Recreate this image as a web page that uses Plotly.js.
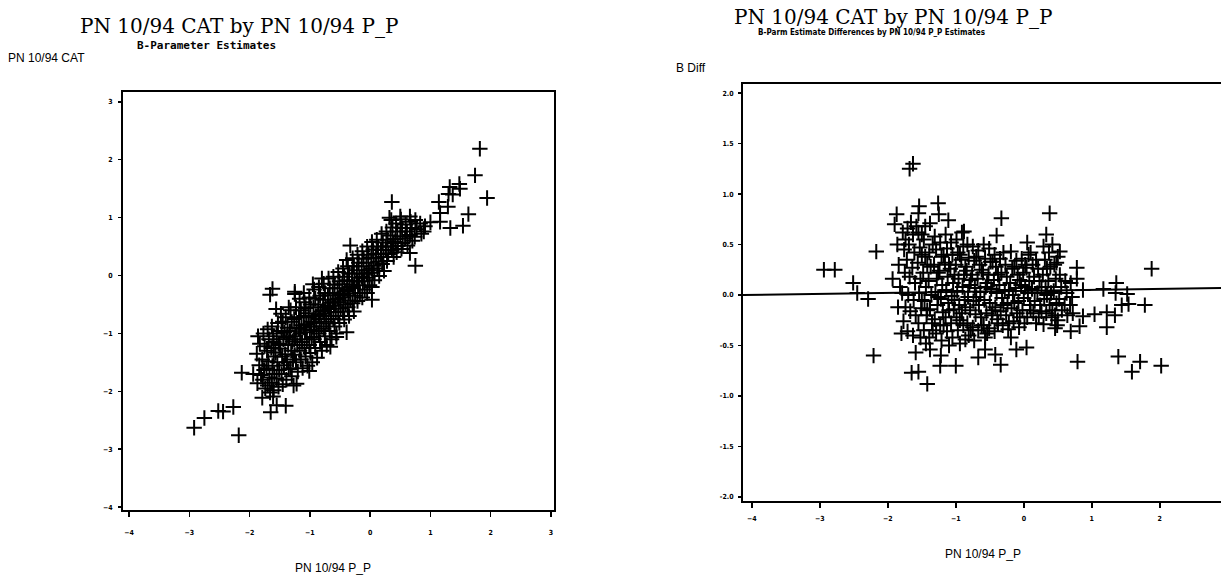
<!DOCTYPE html>
<html>
<head>
<meta charset="utf-8">
<script src="https://cdn.plot.ly/plotly-3.0.1.min.js"></script>
<style>html,body{margin:0;padding:0;background:#fff;}#chart{width:1221px;height:577px;}</style>
</head>
<body>
<div id="chart"></div>
<script>
// ---------- Left plot: B-Parameter Estimates (CAT vs P_P) ----------
const leftClusterX = [
 -1.86,-1.83,-1.88,-1.84,-1.81,-1.87,
 -1.77,-1.75,-1.79,-1.76,-1.78,-1.74,
 -1.70,-1.68,-1.71,-1.69,-1.72,-1.67,-1.70,-1.66,
 -1.63,-1.61,-1.64,-1.60,-1.62,-1.59,-1.63,-1.60,
 -1.56,-1.53,-1.55,-1.52,-1.57,-1.54,-1.51,-1.55,-1.52,
 -1.48,-1.45,-1.47,-1.44,-1.49,-1.46,-1.43,-1.47,-1.45,
 -1.40,-1.37,-1.39,-1.36,-1.41,-1.38,-1.35,-1.39,
 -1.32,-1.30,-1.33,-1.29,-1.31,-1.28,-1.32,-1.30,-1.27,
 -1.25,-1.23,-1.26,-1.22,-1.24,-1.21,-1.25,-1.23,-1.20,
 -1.17,-1.15,-1.18,-1.14,-1.16,-1.13,-1.17,-1.15,-1.12,
 -1.09,-1.07,-1.10,-1.06,-1.08,-1.05,-1.09,-1.07,-1.04,
 -1.01,-0.99,-1.02,-0.98,-1.00,-0.97,-1.01,-0.99,-0.96,
 -0.93,-0.91,-0.94,-0.90,-0.92,-0.89,-0.93,-0.91,-0.88,
 -0.85,-0.83,-0.86,-0.82,-0.84,-0.81,-0.85,-0.83,-0.80,
 -0.77,-0.75,-0.78,-0.74,-0.76,-0.73,-0.77,-0.75,-0.72,
 -0.69,-0.67,-0.70,-0.66,-0.68,-0.65,-0.69,-0.67,-0.64,
 -0.61,-0.59,-0.62,-0.58,-0.60,-0.57,-0.61,-0.59,-0.56,
 -0.53,-0.51,-0.54,-0.50,-0.52,-0.49,-0.53,-0.51,
 -0.45,-0.43,-0.46,-0.42,-0.44,-0.41,-0.45,-0.43,
 -0.37,-0.35,-0.38,-0.34,-0.36,-0.33,-0.37,-0.35,
 -0.29,-0.27,-0.30,-0.26,-0.28,-0.25,-0.29,-0.27,
 -0.21,-0.19,-0.22,-0.18,-0.20,-0.17,-0.21,
 -0.13,-0.11,-0.14,-0.10,-0.12,-0.09,-0.13,
 -0.05,-0.03,-0.06,-0.02,-0.04,-0.01,-0.05,
 0.03,0.05,0.02,0.06,0.04,0.07,0.03,
 0.11,0.13,0.10,0.14,0.12,0.15,
 0.19,0.21,0.18,0.22,0.20,0.23,
 0.27,0.29,0.26,0.30,0.28,
 0.35,0.37,0.34,0.38,0.36,0.39,
 0.43,0.45,0.42,0.46,0.44,
 0.51,0.53,0.50,0.54,0.52,
 0.59,0.61,0.58,0.62,
 0.67,0.69,0.66,0.70,
 0.75,0.77,0.74,
 0.83,0.85,0.89,0.91
];
const leftClusterY = [
 -1.05,-1.18,-1.35,-1.55,-1.72,-1.86,
 -1.00,-1.22,-1.45,-1.63,-1.80,-1.95,
 -0.93,-1.10,-1.30,-1.48,-1.60,-1.76,-1.90,-2.02,
 -0.88,-1.05,-1.25,-1.40,-1.56,-1.70,-1.85,-1.98,
 -0.58,-0.82,-1.00,-1.18,-1.33,-1.50,-1.63,-1.78,-1.92,
 -0.66,-0.80,-0.96,-1.10,-1.26,-1.40,-1.55,-1.70,-1.88,
 -0.72,-0.90,-1.06,-1.20,-1.36,-1.50,-1.62,-1.80,
 -0.60,-0.80,-0.96,-1.14,-1.30,-1.45,-1.60,-1.74,-1.90,
 -0.32,-0.55,-0.75,-0.90,-1.05,-1.20,-1.37,-1.50,-1.66,
 -0.40,-0.60,-0.72,-0.86,-1.00,-1.15,-1.30,-1.45,-1.60,
 -0.46,-0.56,-0.70,-0.84,-0.98,-1.10,-1.25,-1.40,-1.56,
 -0.38,-0.50,-0.65,-0.80,-0.94,-1.06,-1.20,-1.34,-1.50,
 -0.24,-0.40,-0.55,-0.70,-0.82,-0.96,-1.10,-1.25,-1.42,
 -0.20,-0.35,-0.50,-0.62,-0.75,-0.88,-1.00,-1.15,-1.30,
 -0.14,-0.30,-0.42,-0.55,-0.66,-0.80,-0.92,-1.05,-1.20,
 -0.05,-0.22,-0.34,-0.47,-0.58,-0.70,-0.83,-0.96,-1.10,
 -0.02,-0.16,-0.30,-0.42,-0.52,-0.63,-0.75,-0.88,-1.00,
 0.06,-0.10,-0.22,-0.34,-0.46,-0.57,-0.70,-0.82,
 0.12,-0.02,-0.15,-0.27,-0.38,-0.50,-0.62,-0.76,
 0.16,0.04,-0.08,-0.20,-0.31,-0.43,-0.55,-0.70,
 0.30,0.16,0.03,-0.10,-0.22,-0.35,-0.48,-0.62,
 0.36,0.22,0.09,-0.04,-0.17,-0.30,-0.44,
 0.42,0.29,0.16,0.03,-0.10,-0.24,-0.38,
 0.50,0.36,0.22,0.09,-0.04,-0.17,-0.30,
 0.58,0.45,0.31,0.17,0.05,-0.08,-0.20,
 0.62,0.50,0.37,0.24,0.12,-0.01,
 0.72,0.57,0.44,0.32,0.20,0.08,
 0.76,0.62,0.50,0.37,0.25,
 0.96,0.83,0.69,0.56,0.44,0.32,
 0.90,0.76,0.63,0.51,0.40,
 0.97,0.82,0.68,0.56,0.46,
 0.88,0.76,0.64,0.52,
 0.93,0.82,0.70,0.60,
 0.96,0.80,0.67,
 0.90,0.72,0.76,0.85
];
const leftExtraX = [-1.60,-1.50,-1.42,-1.34,-1.26,-1.18,-1.10,-1.02,-0.94,-0.86,-0.78,-0.70,-0.62,
 -0.54,-0.46,-0.38,-0.30,-0.22,-0.14,-0.06,0.02,0.10,0.18,0.26,0.34,0.42,
 -1.35,-1.10,-0.95,-0.80];
const leftExtraY = [-1.15,-1.20,-0.98,-1.05,-1.10,-0.92,-0.90,-0.72,-0.88,-0.68,-0.60,-0.52,-0.46,
 -0.40,-0.32,-0.25,-0.16,-0.10,-0.02,0.04,0.12,0.30,0.38,0.44,0.50,0.58,
 -0.55,-0.30,-0.15,-0.05];
const leftOutlierX = [1.82,1.74,1.94,1.32,1.48,1.49,1.37,1.30,1.14,1.29,
 1.16,1.16,1.00,1.63,1.54,1.33,0.36,0.75,0.66,-0.33,
 -0.39,-1.62,-1.66,-2.13,-2.27,-2.44,-2.52,-2.75,-2.92,-2.18,
 -1.94,-1.79,-1.65,-1.55,-1.40,-1.61,-1.22,-1.01,-0.39,0.03,
 -0.66,-0.56,-1.25,0.66,0.50,0.32];
const leftOutlierY = [2.19,1.73,1.34,1.53,1.58,1.50,1.40,1.41,1.27,1.19,
 1.08,0.93,0.92,1.06,0.86,0.82,1.27,0.17,0.39,0.52,
 0.27,-0.23,-0.33,-1.68,-2.27,-2.35,-2.34,-2.46,-2.63,-2.76,
 -1.70,-2.11,-2.36,-2.24,-2.25,-2.09,-1.87,-1.65,-0.98,-0.42,
 -1.23,-1.06,-0.28,1.02,1.02,1.00];

// ---------- Right plot: B-Parm estimate differences vs P_P ----------
const rightClusterX = [
 -1.86,-1.84,-1.82,-1.85,-1.80,
 -1.78,-1.76,-1.75,-1.79,-1.74,-1.77,
 -1.71,-1.69,-1.72,-1.68,-1.70,-1.67,-1.71,
 -1.63,-1.61,-1.64,-1.60,-1.62,-1.59,-1.63,
 -1.55,-1.53,-1.56,-1.52,-1.54,-1.51,-1.55,-1.52,
 -1.47,-1.45,-1.48,-1.44,-1.46,-1.43,-1.47,-1.44,
 -1.39,-1.37,-1.40,-1.36,-1.38,-1.35,-1.39,
 -1.31,-1.29,-1.32,-1.28,-1.30,-1.27,-1.31,-1.29,
 -1.23,-1.21,-1.24,-1.20,-1.22,-1.19,-1.23,-1.21,
 -1.15,-1.13,-1.16,-1.12,-1.14,-1.11,-1.15,-1.13,-1.10,
 -1.07,-1.05,-1.08,-1.04,-1.06,-1.03,-1.07,-1.05,
 -0.99,-0.97,-1.00,-0.96,-0.98,-0.95,-0.99,-0.97,-0.94,
 -0.91,-0.89,-0.92,-0.88,-0.90,-0.87,-0.91,-0.89,-0.86,
 -0.83,-0.81,-0.84,-0.80,-0.82,-0.79,-0.83,-0.81,
 -0.75,-0.73,-0.76,-0.72,-0.74,-0.71,-0.75,-0.73,
 -0.67,-0.65,-0.68,-0.64,-0.66,-0.63,-0.67,
 -0.59,-0.57,-0.60,-0.56,-0.58,-0.55,-0.59,-0.57,
 -0.51,-0.49,-0.52,-0.48,-0.50,-0.47,-0.51,
 -0.43,-0.41,-0.44,-0.40,-0.42,-0.39,-0.43,
 -0.35,-0.33,-0.36,-0.32,-0.34,-0.31,
 -0.27,-0.25,-0.28,-0.24,-0.26,-0.23,
 -0.19,-0.17,-0.20,-0.16,-0.18,-0.15,-0.19,
 -0.11,-0.09,-0.12,-0.08,-0.10,-0.07,
 -0.03,-0.01,-0.04,0.00,-0.02,0.01,
 0.05,0.07,0.04,0.08,0.06,0.09,0.05,
 0.13,0.15,0.12,0.16,0.14,
 0.21,0.23,0.20,0.24,0.22,
 0.29,0.31,0.28,0.32,0.30,0.33,0.29,
 0.37,0.39,0.36,0.40,0.38,0.41,
 0.45,0.47,0.44,0.48,0.46,0.49,
 0.53,0.55,0.52,0.56,
 0.61,0.63,0.60,0.64,
 0.69,0.71,0.68,0.72
];
const rightClusterY = [
 0.50,0.30,0.08,-0.12,-0.38,
 0.62,0.45,0.22,0.02,-0.12,-0.26,
 0.66,0.50,0.35,0.18,0.00,-0.16,-0.36,
 0.60,0.42,0.27,0.12,-0.05,-0.20,-0.40,
 0.62,0.47,0.32,0.16,0.02,-0.13,-0.28,-0.42,
 0.55,0.38,0.22,0.08,-0.06,-0.20,-0.35,-0.48,
 0.42,0.28,0.14,0.00,-0.14,-0.28,-0.42,
 0.58,0.45,0.30,0.16,0.03,-0.10,-0.24,-0.38,
 0.52,0.38,0.24,0.10,-0.04,-0.17,-0.30,-0.45,
 0.60,0.46,0.32,0.18,0.05,-0.08,-0.22,-0.36,-0.50,
 0.52,0.40,0.26,0.12,-0.01,-0.14,-0.28,-0.42,
 0.55,0.42,0.30,0.16,0.04,-0.10,-0.22,-0.35,-0.48,
 0.62,0.48,0.35,0.20,0.08,-0.05,-0.18,-0.30,-0.44,
 0.50,0.37,0.24,0.10,-0.02,-0.15,-0.28,-0.40,
 0.48,0.34,0.20,0.07,-0.06,-0.19,-0.32,-0.45,
 0.44,0.30,0.16,0.03,-0.10,-0.22,-0.35,
 0.50,0.36,0.22,0.08,-0.05,-0.18,-0.30,-0.42,
 0.46,0.33,0.20,0.06,-0.08,-0.20,-0.33,
 0.40,0.28,0.15,0.02,-0.12,-0.24,-0.36,
 0.36,0.22,0.10,-0.03,-0.16,-0.30,
 0.30,0.18,0.05,-0.08,-0.20,-0.34,
 0.43,0.26,0.12,0.00,-0.13,-0.26,-0.42,
 0.34,0.20,0.07,-0.06,-0.18,-0.32,
 0.36,0.22,0.10,-0.03,-0.15,-0.28,
 0.52,0.40,0.27,0.14,0.02,-0.10,-0.22,
 0.30,0.18,0.06,-0.06,-0.18,
 0.26,0.14,0.02,-0.10,-0.22,
 0.48,0.35,0.20,0.08,-0.04,-0.18,-0.29,
 0.42,0.28,0.14,0.02,-0.10,-0.22,
 0.30,0.16,0.04,-0.08,-0.20,-0.30,
 0.20,0.08,-0.04,-0.15,
 0.14,0.02,-0.10,-0.20,
 0.12,-0.02,-0.10,-0.18
];
const rightExtraX = [-1.50,-1.42,-1.34,-1.26,-1.18,-1.10,-1.02,-0.94,-0.86,-0.78,-0.70,-0.62,-0.54,
 -0.46,-0.38,-0.30,-0.22,-0.14,-0.06,0.02,0.10,0.18,0.26,0.34,0.42,0.50,
 -1.50,-1.42,-1.34,-1.26,-1.18,-1.10,-1.02,-0.94,-0.86,-0.78,-0.70,-0.62,-0.54,
 -0.46,-0.38,-0.30,-0.22,-0.14,-0.06,0.02,0.10,0.18,0.26,0.34,0.42,0.50,
 -1.74,-1.66,-1.58,-1.50,-1.45];
const rightExtraY = [0.40,0.30,0.50,0.22,0.40,0.30,0.20,0.40,0.28,0.15,0.38,0.25,0.12,
 0.33,0.20,0.42,0.05,0.28,0.15,0.30,0.42,0.35,0.08,0.26,0.50,0.38,
 -0.05,-0.15,-0.35,-0.02,-0.30,-0.15,-0.05,-0.25,-0.12,-0.35,-0.02,-0.30,-0.38,
 -0.15,-0.28,-0.10,-0.28,-0.08,-0.22,0.08,-0.15,-0.28,-0.16,0.00,-0.15,-0.25,
 0.55,0.72,0.68,0.60,0.68];
const rightOutlierX = [-2.94,-2.78,-2.51,-2.45,-2.29,-2.17,-2.21,-1.93,-1.87,-1.68,
 -1.63,-1.54,-1.55,-1.26,-1.25,-1.11,-1.38,-1.90,-0.33,0.38,
 0.33,-0.40,-0.88,-1.42,-1.65,-1.55,-1.59,-1.38,-1.23,-1.00,
 -1.22,-0.67,-0.42,-0.34,-0.57,-0.11,0.04,0.79,1.39,1.71,
 1.59,2.02,1.88,1.36,1.35,1.52,1.17,1.44,1.54,1.78,
 1.22,1.34,1.04,1.22,0.87,0.82,0.69,0.78,0.78,0.87,
 0.53,0.48,0.46];
const rightOutlierY = [0.25,0.25,0.12,0.02,-0.04,0.43,-0.60,0.16,0.80,1.25,
 1.30,0.88,0.81,0.91,0.80,0.74,0.71,0.70,0.76,0.81,
 0.60,0.59,0.63,-0.88,-0.77,-0.76,-0.57,-0.54,-0.70,-0.70,
 -0.60,-0.62,-0.59,-0.69,-0.54,-0.54,-0.52,-0.66,-0.61,-0.66,
 -0.76,-0.70,0.26,0.12,0.02,0.01,0.06,-0.10,-0.09,-0.10,
 -0.17,-0.20,-0.19,-0.32,-0.21,-0.31,-0.36,0.27,0.16,0.05,
 0.43,0.32,-0.33];

// reference line drawn on the difference plot (slightly tilted in the scan)
const refLineX = [-4.13, 2.90];
const refLineY = [0.00, 0.07];

// tick labels
const leftXTicks = [-4,-3,-2,-1,0,1,2,3];
const leftYTicks = [-4,-3,-2,-1,0,1,2,3];
const rightXTicks = [-4,-3,-2,-1,0,1,2];
const rightYTicks = [-2,-1.5,-1,-0.5,0,0.5,1,1.5,2];
const rightYTickText = ['-2.0','-1.5','-1.0','-0.5','0.0','0.5','1.0','1.5','2.0'];

// ---------- drawing ----------
const W = 1221, H = 577;
const px = v => v / W;
const py = v => 1 - v / H;

const crossMarker = {symbol:'cross-thin', size:11, color:'#000', line:{color:'#000', width:2}};

const traces = [
  {type:'scatter', mode:'markers',
   x:leftClusterX.concat(leftExtraX, leftOutlierX), y:leftClusterY.concat(leftExtraY, leftOutlierY),
   xaxis:'x', yaxis:'y', marker:crossMarker, hoverinfo:'skip'},
  {type:'scatter', mode:'lines', x:refLineX, y:refLineY, xaxis:'x2', yaxis:'y2',
   line:{color:'#000', width:2}, hoverinfo:'skip'},
  {type:'scatter', mode:'markers',
   x:rightClusterX.concat(rightExtraX, rightOutlierX), y:rightClusterY.concat(rightExtraY, rightOutlierY),
   xaxis:'x2', yaxis:'y2', marker:crossMarker, hoverinfo:'skip'}
];

const tickFont = {family:'DejaVu Sans Condensed, DejaVu Sans', size:7, color:'#000', weight:'bold'};
const axisBase = {showgrid:false, zeroline:false, showline:true, linecolor:'#000', linewidth:2,
  ticks:'outside', tickcolor:'#000', tickwidth:1.5, tickfont:tickFont};

function ann(text, x, y, font) {
  return {text:text, x:px(x), y:py(y), xref:'paper', yref:'paper', showarrow:false,
          xanchor:'center', yanchor:'middle', font:font};
}
const titleFont = {family:'DejaVu Serif, serif', size:20, color:'#000'};
const subFontL = {family:'DejaVu Sans Mono', size:11, color:'#000', weight:'bold'};
const subFontR = {family:'DejaVu Sans Condensed, DejaVu Sans', size:8, color:'#000', weight:'bold'};
const axTitleFont = {family:'Liberation Sans, Arial, sans-serif', size:12, color:'#000'};

const layout = {
  width:W, height:H, autosize:false, showlegend:false,
  margin:{l:0, r:0, t:0, b:0, pad:0},
  paper_bgcolor:'#fff', plot_bgcolor:'#fff',
  xaxis: Object.assign({}, axisBase, {domain:[px(123), px(554)], range:[-4.1, 3.05], anchor:'y',
    tickvals:leftXTicks, ticklen:5, mirror:true, ticklabelstandoff:10}),
  yaxis: Object.assign({}, axisBase, {domain:[py(510), py(92)], range:[-4.05, 3.17], anchor:'x',
    tickvals:leftYTicks, ticklen:3, mirror:true, ticklabelstandoff:4}),
  xaxis2: Object.assign({}, axisBase, {domain:[px(743), 1], range:[-4.13, 2.90], anchor:'y2',
    tickvals:rightXTicks, ticklen:5, mirror:true, ticklabelstandoff:5}),
  yaxis2: Object.assign({}, axisBase, {domain:[py(501), py(84)], range:[-2.04, 2.09], anchor:'x2',
    tickvals:rightYTicks, ticktext:rightYTickText, ticklen:3, ticklabelstandoff:3}),
  annotations: [
    ann('PN 10/94 CAT by PN 10/94 P_P', 239, 26, titleFont),
    ann('B-Parameter Estimates', 207, 45, subFontL),
    ann('PN 10/94 CAT', 46, 58, axTitleFont),
    ann('PN 10/94 P_P', 333, 568, axTitleFont),
    ann('PN 10/94 CAT by PN 10/94 P_P', 893, 17, titleFont),
    ann('B-Parm Estimate Differences by PN 10/94 P_P Estimates', 871, 33, subFontR),
    ann('B Diff', 691, 68, axTitleFont),
    ann('PN 10/94 P_P', 983, 554, axTitleFont)
  ]
};

Plotly.newPlot('chart', traces, layout, {staticPlot:true, displayModeBar:false});
</script>
</body>
</html>
